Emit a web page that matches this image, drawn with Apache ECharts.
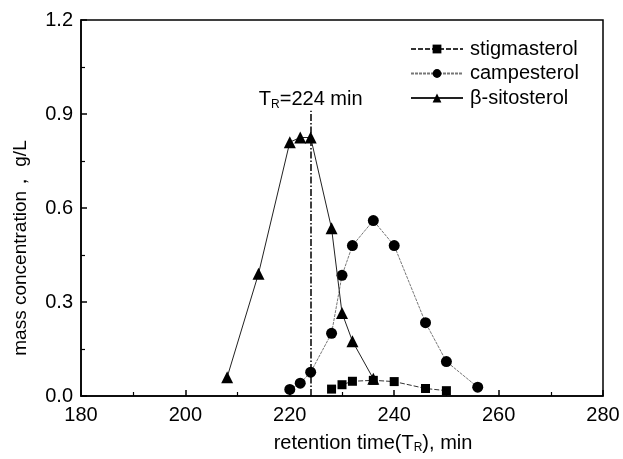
<!DOCTYPE html>
<html>
<head>
<meta charset="utf-8">
<script src="https://cdn.jsdelivr.net/npm/echarts@6/dist/echarts.min.js"></script>
<style>html,body{margin:0;padding:0;background:#fff}#c{width:623px;height:459px}</style>
</head>
<body>
<div id="c"></div>
<script>
// ---- data ----
const stigTimes = [228, 230, 232, 236, 240, 246, 250];
const stigValues = [0.022, 0.036, 0.047, 0.05, 0.046, 0.024, 0.017];

const campTimes = [220, 222, 224, 228, 230, 232, 236, 240, 246, 250, 256];
const campValues = [0.021, 0.041, 0.076, 0.20, 0.385, 0.48, 0.56, 0.48, 0.234, 0.11, 0.028];

const sitoTimes = [208, 214, 220, 222, 224, 228, 230, 232, 236];
const sitoValues = [0.06, 0.39, 0.81, 0.825, 0.825, 0.535, 0.265, 0.175, 0.055];

const seriesNames = ['stigmasterol', 'campesterol', 'β-sitosterol'];
const xTicks = [180, 200, 220, 240, 260, 280];
const yTicks = [0.0, 0.3, 0.6, 0.9, 1.2];
const markerTime = 224;
const markerTop = 0.91;

const FONT = 'Liberation Sans, Arial, sans-serif';
const FS = 20;
const pair = (xs, ys) => xs.map((x, i) => [x, ys[i]]);

const chart = echarts.init(document.getElementById('c'), null, {renderer: 'canvas'});
chart.setOption({
  animation: false,
  backgroundColor: '#fff',
  textStyle: {fontFamily: FONT, color: '#000'},
  grid: {left: 81, right: 20, top: 20, bottom: 52, show: true, borderColor: '#000', borderWidth: 1.5, backgroundColor: 'transparent'},
  legend: {
    orient: 'vertical', left: 405, top: 34, itemWidth: 52, itemHeight: 11, itemGap: 4.5,
    textStyle: {fontFamily: FONT, fontSize: FS, color: '#000', padding: [0, 0, 0, 2]},
    data: seriesNames
  },
  xAxis: {
    type: 'value', min: xTicks[0], max: xTicks[xTicks.length - 1], interval: 20,
    axisLine: {lineStyle: {color: '#000', width: 1.5}},
    axisTick: {inside: true, length: 6, lineStyle: {color: '#000', width: 1.5}},
    minorTick: {show: true, splitNumber: 2, length: 4, lineStyle: {color: '#000', width: 1.2}},
    splitLine: {show: false},
    axisLabel: {fontFamily: FONT, fontSize: FS, color: '#000', margin: 9},
    name: 'retention time(T{sub|R}), min', nameLocation: 'middle', nameGap: 36,
    nameTextStyle: {fontFamily: FONT, fontSize: FS, color: '#000', lineHeight: 22, padding: [0, 0, 0, 62],
      rich: {sub: {fontFamily: FONT, fontSize: 12, lineHeight: 12, verticalAlign: 'bottom', color: '#000'}}}
  },
  yAxis: {
    type: 'value', min: 0, max: 1.2, interval: 0.3,
    axisLine: {show: true, lineStyle: {color: '#000', width: 1.5}},
    axisTick: {show: true, inside: true, length: 6, lineStyle: {color: '#000', width: 1.5}},
    minorTick: {show: true, splitNumber: 2, length: 4, lineStyle: {color: '#000', width: 1.2}},
    splitLine: {show: false},
    axisLabel: {fontFamily: FONT, fontSize: FS, color: '#000', margin: 8, formatter: v => v.toFixed(1)},
    name: 'mass concentration， g/L', nameLocation: 'middle', nameGap: 51,
    nameTextStyle: {fontFamily: FONT, fontSize: 19, color: '#000', padding: [0, 80, 0, 0]}
  },
  series: [
    {
      name: seriesNames[0], type: 'line', data: pair(stigTimes, stigValues),
      symbol: 'rect', symbolSize: 9,
      lineStyle: {color: '#333', width: 1, type: [5, 2]},
      itemStyle: {color: '#000'}, z: 3
    },
    {
      name: seriesNames[1], type: 'line', data: pair(campTimes, campValues),
      symbol: 'circle', symbolSize: 11,
      lineStyle: {color: '#777', width: 1, type: [3, 1]},
      itemStyle: {color: '#000'}, z: 4
    },
    {
      name: seriesNames[2], type: 'line', data: pair(sitoTimes, sitoValues),
      symbol: 'triangle', symbolSize: 12,
      lineStyle: {color: '#222', width: 1},
      itemStyle: {color: '#000'}, z: 5,
      markLine: {
        silent: true, symbol: 'none',
        lineStyle: {color: '#000', width: 1.5, type: [7, 2, 1.5, 2]},
        label: {
          show: true, position: 'end', distance: 0,
          formatter: 'T{sub|R}=' + markerTime + ' min',
          fontFamily: FONT, fontSize: FS, color: '#000', lineHeight: 22,
          rich: {sub: {fontFamily: FONT, fontSize: 12, lineHeight: 12, verticalAlign: 'bottom', color: '#000'}}
        },
        data: [[{coord: [markerTime, 0]}, {coord: [markerTime, markerTop]}]]
      }
    }
  ]
});
</script>
</body>
</html>
